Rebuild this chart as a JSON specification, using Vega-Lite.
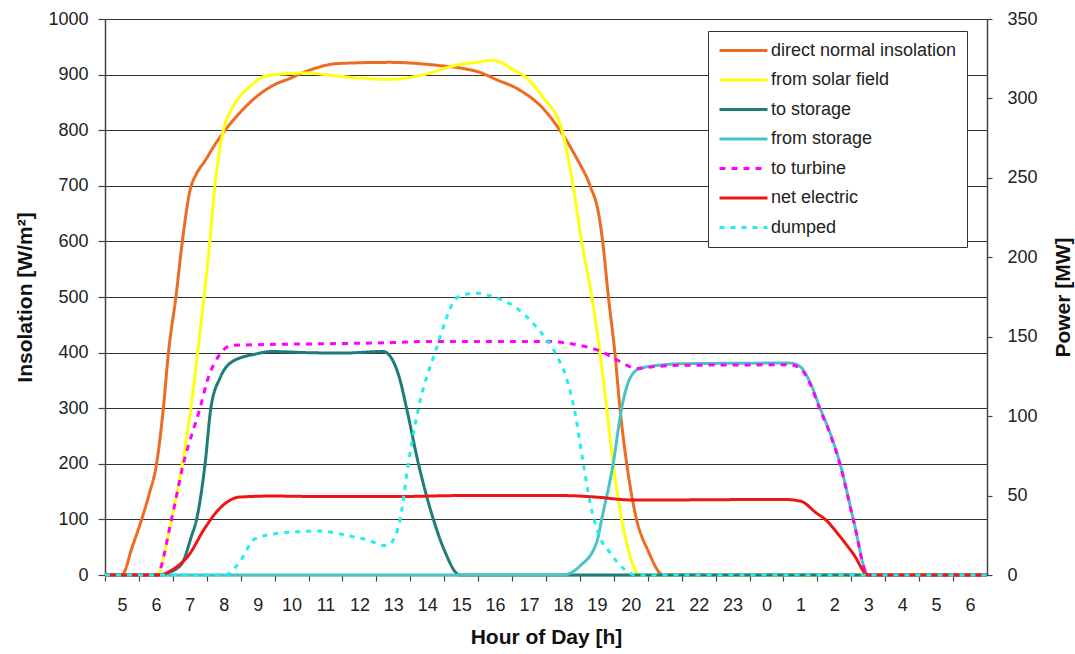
{
  "$schema": "https://vega.github.io/schema/vega-lite/v6.json",
  "width": 882,
  "height": 556,
  "autosize": {"type": "none"},
  "padding": {"left": 105, "top": 19, "right": 88, "bottom": 79},
  "background": "white",
  "config": {
    "font": "Liberation Sans",
    "view": {"stroke": null},
    "axis": {"labelFont": "Liberation Sans", "titleFont": "Liberation Sans", "labelFontSize": 18, "titleFontSize": 21, "labelColor": "#222", "titleColor": "#111", "titleFontWeight": "bold", "domainColor": "#444", "tickColor": "#444", "domainWidth": 1.5, "tickWidth": 1.2},
    "axisX": {"labelOverlap": false},
    "line": {"strokeWidth": 3, "interpolate": "monotone"}
  },
  "datasets": {
    "insolation": [
      {"s": "direct normal insolation", "t": -0.5, "v": 0},
      {"s": "direct normal insolation", "t": 0, "v": 0},
      {"s": "direct normal insolation", "t": 0.3, "v": 50},
      {"s": "direct normal insolation", "t": 0.58, "v": 100},
      {"s": "direct normal insolation", "t": 0.8, "v": 145},
      {"s": "direct normal insolation", "t": 1.02, "v": 200},
      {"s": "direct normal insolation", "t": 1.22, "v": 300},
      {"s": "direct normal insolation", "t": 1.37, "v": 400},
      {"s": "direct normal insolation", "t": 1.59, "v": 500},
      {"s": "direct normal insolation", "t": 1.78, "v": 600},
      {"s": "direct normal insolation", "t": 2.0, "v": 690},
      {"s": "direct normal insolation", "t": 2.2, "v": 722},
      {"s": "direct normal insolation", "t": 2.45, "v": 745},
      {"s": "direct normal insolation", "t": 2.74, "v": 774},
      {"s": "direct normal insolation", "t": 3.04, "v": 800},
      {"s": "direct normal insolation", "t": 3.5, "v": 833},
      {"s": "direct normal insolation", "t": 3.92, "v": 858},
      {"s": "direct normal insolation", "t": 4.5, "v": 882},
      {"s": "direct normal insolation", "t": 4.95, "v": 893},
      {"s": "direct normal insolation", "t": 5.4, "v": 905},
      {"s": "direct normal insolation", "t": 6.4, "v": 920},
      {"s": "direct normal insolation", "t": 7.9, "v": 922},
      {"s": "direct normal insolation", "t": 9.4, "v": 916},
      {"s": "direct normal insolation", "t": 10.06, "v": 911},
      {"s": "direct normal insolation", "t": 10.55, "v": 904},
      {"s": "direct normal insolation", "t": 11.0, "v": 892},
      {"s": "direct normal insolation", "t": 11.73, "v": 872},
      {"s": "direct normal insolation", "t": 12.4, "v": 840},
      {"s": "direct normal insolation", "t": 12.91, "v": 800},
      {"s": "direct normal insolation", "t": 13.4, "v": 750},
      {"s": "direct normal insolation", "t": 13.8, "v": 700},
      {"s": "direct normal insolation", "t": 14.05, "v": 650},
      {"s": "direct normal insolation", "t": 14.17, "v": 600},
      {"s": "direct normal insolation", "t": 14.34, "v": 500},
      {"s": "direct normal insolation", "t": 14.53, "v": 400},
      {"s": "direct normal insolation", "t": 14.68, "v": 300},
      {"s": "direct normal insolation", "t": 14.88, "v": 200},
      {"s": "direct normal insolation", "t": 15.17, "v": 100},
      {"s": "direct normal insolation", "t": 15.5, "v": 45},
      {"s": "direct normal insolation", "t": 15.96, "v": 0},
      {"s": "direct normal insolation", "t": 25.5, "v": 0}
    ],
    "power": [
      {"s": "from solar field", "t": -0.5, "p": 0},
      {"s": "from solar field", "t": 1.02, "p": 0},
      {"s": "from solar field", "t": 1.46, "p": 35},
      {"s": "from solar field", "t": 1.78, "p": 70},
      {"s": "from solar field", "t": 2.03, "p": 105},
      {"s": "from solar field", "t": 2.23, "p": 140},
      {"s": "from solar field", "t": 2.42, "p": 175},
      {"s": "from solar field", "t": 2.59, "p": 210},
      {"s": "from solar field", "t": 2.74, "p": 245},
      {"s": "from solar field", "t": 2.99, "p": 280},
      {"s": "from solar field", "t": 3.2, "p": 292},
      {"s": "from solar field", "t": 3.43, "p": 300},
      {"s": "from solar field", "t": 3.8, "p": 308},
      {"s": "from solar field", "t": 4.22, "p": 314},
      {"s": "from solar field", "t": 5.4, "p": 316},
      {"s": "from solar field", "t": 6.4, "p": 314},
      {"s": "from solar field", "t": 7.2, "p": 312.5},
      {"s": "from solar field", "t": 7.9, "p": 312},
      {"s": "from solar field", "t": 8.9, "p": 315},
      {"s": "from solar field", "t": 9.87, "p": 321},
      {"s": "from solar field", "t": 10.55, "p": 323},
      {"s": "from solar field", "t": 10.85, "p": 324},
      {"s": "from solar field", "t": 11.2, "p": 322.5},
      {"s": "from solar field", "t": 11.5, "p": 318.5},
      {"s": "from solar field", "t": 11.8, "p": 315},
      {"s": "from solar field", "t": 12.4, "p": 301},
      {"s": "from solar field", "t": 12.97, "p": 280},
      {"s": "from solar field", "t": 13.3, "p": 245},
      {"s": "from solar field", "t": 13.55, "p": 210},
      {"s": "from solar field", "t": 13.85, "p": 175},
      {"s": "from solar field", "t": 14.09, "p": 140},
      {"s": "from solar field", "t": 14.29, "p": 105},
      {"s": "from solar field", "t": 14.48, "p": 70},
      {"s": "from solar field", "t": 14.73, "p": 35},
      {"s": "from solar field", "t": 14.95, "p": 14},
      {"s": "from solar field", "t": 15.27, "p": 0},
      {"s": "from solar field", "t": 25.5, "p": 0},

      {"s": "to storage", "t": -0.5, "p": 0},
      {"s": "to storage", "t": 1.02, "p": 0},
      {"s": "to storage", "t": 1.4, "p": 1.75},
      {"s": "to storage", "t": 1.76, "p": 7},
      {"s": "to storage", "t": 2.05, "p": 24.5},
      {"s": "to storage", "t": 2.2, "p": 35},
      {"s": "to storage", "t": 2.45, "p": 70},
      {"s": "to storage", "t": 2.62, "p": 105},
      {"s": "to storage", "t": 2.89, "p": 124},
      {"s": "to storage", "t": 3.23, "p": 134},
      {"s": "to storage", "t": 3.92, "p": 139},
      {"s": "to storage", "t": 4.41, "p": 140.7},
      {"s": "to storage", "t": 5.4, "p": 140},
      {"s": "to storage", "t": 6.5, "p": 139.7},
      {"s": "to storage", "t": 7.7, "p": 140.7},
      {"s": "to storage", "t": 8.0, "p": 134.4},
      {"s": "to storage", "t": 8.2, "p": 122.5},
      {"s": "to storage", "t": 8.39, "p": 105},
      {"s": "to storage", "t": 8.74, "p": 70},
      {"s": "to storage", "t": 8.98, "p": 49.7},
      {"s": "to storage", "t": 9.18, "p": 35},
      {"s": "to storage", "t": 9.5, "p": 15.75},
      {"s": "to storage", "t": 9.96, "p": 0},
      {"s": "to storage", "t": 25.5, "p": 0},

      {"s": "from storage", "t": -0.5, "p": 0},
      {"s": "from storage", "t": 13.0, "p": 0},
      {"s": "from storage", "t": 13.5, "p": 5.6},
      {"s": "from storage", "t": 14.0, "p": 21},
      {"s": "from storage", "t": 14.14, "p": 35},
      {"s": "from storage", "t": 14.48, "p": 70},
      {"s": "from storage", "t": 14.73, "p": 105},
      {"s": "from storage", "t": 14.98, "p": 124},
      {"s": "from storage", "t": 15.27, "p": 130},
      {"s": "from storage", "t": 15.95, "p": 132.3},
      {"s": "from storage", "t": 16.5, "p": 133},
      {"s": "from storage", "t": 19.7, "p": 133.4},
      {"s": "from storage", "t": 20.0, "p": 131},
      {"s": "from storage", "t": 20.29, "p": 121},
      {"s": "from storage", "t": 20.58, "p": 105},
      {"s": "from storage", "t": 20.88, "p": 89},
      {"s": "from storage", "t": 21.17, "p": 70},
      {"s": "from storage", "t": 21.56, "p": 35},
      {"s": "from storage", "t": 22.0, "p": 0},
      {"s": "from storage", "t": 25.5, "p": 0},

      {"s": "to turbine", "t": -0.5, "p": 0},
      {"s": "to turbine", "t": 1.02, "p": 0},
      {"s": "to turbine", "t": 1.46, "p": 35},
      {"s": "to turbine", "t": 1.81, "p": 70},
      {"s": "to turbine", "t": 2.3, "p": 105},
      {"s": "to turbine", "t": 2.54, "p": 124},
      {"s": "to turbine", "t": 2.84, "p": 137.5},
      {"s": "to turbine", "t": 3.23, "p": 144.5},
      {"s": "to turbine", "t": 4.0, "p": 145},
      {"s": "to turbine", "t": 6.0, "p": 145.6},
      {"s": "to turbine", "t": 8.0, "p": 146.3},
      {"s": "to turbine", "t": 9.0, "p": 147},
      {"s": "to turbine", "t": 12.5, "p": 147},
      {"s": "to turbine", "t": 13.5, "p": 144.5},
      {"s": "to turbine", "t": 14.1, "p": 141},
      {"s": "to turbine", "t": 14.68, "p": 134.4},
      {"s": "to turbine", "t": 15.17, "p": 130},
      {"s": "to turbine", "t": 15.6, "p": 131},
      {"s": "to turbine", "t": 16.5, "p": 132},
      {"s": "to turbine", "t": 19.7, "p": 132.3},
      {"s": "to turbine", "t": 20.0, "p": 130},
      {"s": "to turbine", "t": 20.29, "p": 120},
      {"s": "to turbine", "t": 20.58, "p": 104},
      {"s": "to turbine", "t": 20.88, "p": 88.5},
      {"s": "to turbine", "t": 21.17, "p": 69.3},
      {"s": "to turbine", "t": 21.56, "p": 34.6},
      {"s": "to turbine", "t": 22.0, "p": 0},
      {"s": "to turbine", "t": 25.5, "p": 0},

      {"s": "net electric", "t": -0.5, "p": 0},
      {"s": "net electric", "t": 1.1, "p": 0},
      {"s": "net electric", "t": 1.5, "p": 3.5},
      {"s": "net electric", "t": 1.96, "p": 12.25},
      {"s": "net electric", "t": 2.45, "p": 29.75},
      {"s": "net electric", "t": 2.84, "p": 41},
      {"s": "net electric", "t": 3.2, "p": 47.25},
      {"s": "net electric", "t": 3.43, "p": 49},
      {"s": "net electric", "t": 4.41, "p": 49.7},
      {"s": "net electric", "t": 6.0, "p": 49.35},
      {"s": "net electric", "t": 8.0, "p": 49.35},
      {"s": "net electric", "t": 10.0, "p": 50},
      {"s": "net electric", "t": 13.0, "p": 50},
      {"s": "net electric", "t": 14.0, "p": 49},
      {"s": "net electric", "t": 15.0, "p": 47.25},
      {"s": "net electric", "t": 16.0, "p": 47.25},
      {"s": "net electric", "t": 19.5, "p": 47.6},
      {"s": "net electric", "t": 20.0, "p": 46.5},
      {"s": "net electric", "t": 20.48, "p": 38.85},
      {"s": "net electric", "t": 20.73, "p": 35},
      {"s": "net electric", "t": 21.17, "p": 24.15},
      {"s": "net electric", "t": 21.56, "p": 13.3},
      {"s": "net electric", "t": 22.0, "p": 0},
      {"s": "net electric", "t": 25.5, "p": 0},

      {"s": "dumped", "t": -0.5, "p": 0},
      {"s": "dumped", "t": 3.04, "p": 0},
      {"s": "dumped", "t": 3.43, "p": 7},
      {"s": "dumped", "t": 3.92, "p": 22.75},
      {"s": "dumped", "t": 4.6, "p": 26.25},
      {"s": "dumped", "t": 5.25, "p": 27.3},
      {"s": "dumped", "t": 5.84, "p": 27.65},
      {"s": "dumped", "t": 6.72, "p": 24.5},
      {"s": "dumped", "t": 7.3, "p": 21.7},
      {"s": "dumped", "t": 7.7, "p": 18.55},
      {"s": "dumped", "t": 7.9, "p": 19.6},
      {"s": "dumped", "t": 8.05, "p": 24.15},
      {"s": "dumped", "t": 8.2, "p": 35},
      {"s": "dumped", "t": 8.44, "p": 70},
      {"s": "dumped", "t": 8.74, "p": 105},
      {"s": "dumped", "t": 9.23, "p": 140},
      {"s": "dumped", "t": 9.91, "p": 175},
      {"s": "dumped", "t": 10.46, "p": 177.5},
      {"s": "dumped", "t": 10.8, "p": 176},
      {"s": "dumped", "t": 11.54, "p": 169.4},
      {"s": "dumped", "t": 12.23, "p": 155.75},
      {"s": "dumped", "t": 12.82, "p": 137.9},
      {"s": "dumped", "t": 13.1, "p": 124.25},
      {"s": "dumped", "t": 13.36, "p": 101.5},
      {"s": "dumped", "t": 13.6, "p": 70},
      {"s": "dumped", "t": 13.8, "p": 45.5},
      {"s": "dumped", "t": 14.04, "p": 26.25},
      {"s": "dumped", "t": 14.39, "p": 14},
      {"s": "dumped", "t": 14.78, "p": 4.2},
      {"s": "dumped", "t": 15.15, "p": 0},
      {"s": "dumped", "t": 25.5, "p": 0}
    ]
  },
  "encoding": {
    "x": {"field": "t", "type": "quantitative", "scale": {"domain": [-0.5, 25.5], "nice": false, "zero": false},
      "axis": {"title": "Hour of Day [h]", "values": [0,1,2,3,4,5,6,7,8,9,10,11,12,13,14,15,16,17,18,19,20,21,22,23,24,25,26], "labelExpr": "datum.value > 25 ? '' : '' + ((datum.value + 5) % 24)", "tickOffset": -17, "labelOffset": 17, "tickSize": 6, "labelPadding": 15, "titlePadding": 12, "grid": false, "labelFlush": false, "labelOverlap": false}},
    "color": {"field": "s", "type": "nominal", "title": null,
      "scale": {"domain": ["direct normal insolation", "from solar field", "to storage", "from storage", "to turbine", "net electric", "dumped"],
                "range": ["#EE6B22", "#FFFF10", "#1E7C79", "#4CC3C3", "#FF00FF", "#EE1515", "#22EEEE"]},
      "legend": {"orient": "none", "legendX": 603, "legendY": 12, "symbolType": "M-3,0H3", "symbolSize": 256, "symbolOffset": 16, "symbolStrokeWidth": 3.5, "labelFontSize": 18, "labelFont": "Liberation Sans", "labelColor": "#222", "labelOffset": 18, "labelLimit": 300, "strokeColor": "#333", "fillColor": "white", "padding": 10, "rowPadding": 10.5}},
    "strokeDash": {"field": "s", "type": "nominal", "title": null,
      "scale": {"domain": ["direct normal insolation", "from solar field", "to storage", "from storage", "to turbine", "net electric", "dumped"],
                "range": [[1,0],[1,0],[1,0],[1,0],[6,6],[1,0],[5,6]]},
      "legend": {"orient": "none", "legendX": 603, "legendY": 12}}
  },
  "layer": [
    {
      "data": {"name": "insolation"},
      "mark": {"type": "line"},
      "encoding": {
        "y": {"field": "v", "type": "quantitative", "scale": {"domain": [0, 1000], "nice": false},
          "axis": {"title": "Insolation [W/m²]", "orient": "left", "format": "d", "values": [0,100,200,300,400,500,600,700,800,900,1000], "grid": true, "gridColor": "#333", "gridWidth": 1.2, "gridOpacity": 1, "tickSize": 7, "labelPadding": 10, "titlePadding": 12}}
      }
    },
    {
      "data": {"name": "power"},
      "mark": {"type": "line"},
      "encoding": {
        "y": {"field": "p", "type": "quantitative", "scale": {"domain": [0, 350], "nice": false},
          "axis": {"title": "Power [MW]", "orient": "right", "format": "d", "values": [0,50,100,150,200,250,300,350], "grid": false, "tickSize": 5, "labelPadding": 15, "titlePadding": 15, "titleAngle": 270, "titleBaseline": "top"}}
      }
    }
  ],
  "resolve": {"scale": {"y": "independent"}, "axis": {"y": "independent"}}
}
